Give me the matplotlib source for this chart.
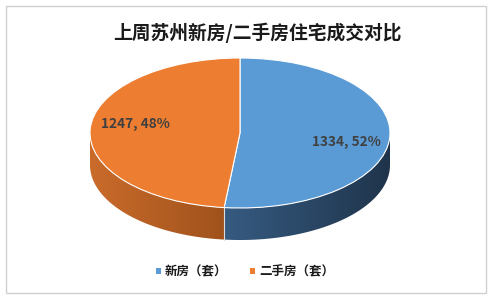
import numpy as np
import matplotlib
matplotlib.use("Agg")
import matplotlib.pyplot as plt
from matplotlib.patches import Rectangle, Patch, Polygon
from matplotlib.colors import to_rgb

plt.rcParams['font.family'] = ['Noto Sans CJK SC', 'DejaVu Sans']

# data
title = "上周苏州新房/二手房住宅成交对比"
categories = ["新房（套）", "二手房（套）"]
values = [1334, 1247]
top_colors = ["#5b9bd5", "#ed7d31"]
# side wall gradients, left colour -> right colour on screen
side_colors = [("#365b81", "#1f344b"), ("#c96b2b", "#a0521c")]

W, H = 492, 299
fig = plt.figure(figsize=(W / 100, H / 100), dpi=100)

# pie of radius 1 -> 150 px wide, 75 px tall
cx, cy, rx, ry = 240, 133, 150, 75
ax = fig.add_axes([0, 0, 1, 1])
xlim = ((0 - cx) / rx, (W - cx) / rx)
ylim = ((cy - H) / ry, (cy - 0) / ry)
depth = 32 / ry

total = sum(values)
fracs = [v / total for v in values]
start = 90.0
bounds = []
for f in fracs:
    bounds.append((start - f * 360, start))
    start -= f * 360

# side walls (front half only), gradient image clipped to the wall shape
for (a0, a1), (c_left, c_right) in zip(bounds, side_colors):
    for shift in (-360, 0, 360):
        lo, hi = max(a0 + shift, -180), min(a1 + shift, 0)
        if lo >= hi:
            continue
        t = np.radians(np.linspace(lo, hi, 120))
        xs, ys = np.cos(t), np.sin(t)
        pts = list(zip(xs, ys)) + list(zip(xs[::-1], ys[::-1] - depth))
        poly = Polygon(pts, closed=True, facecolor='none', edgecolor='none')
        ax.add_patch(poly)
        cl, cr = np.array(to_rgb(c_left)), np.array(to_rgb(c_right))
        u = np.linspace(0, 1, 256)
        grad = (cl[None, :] + (cr - cl)[None, :] * u[:, None])[None, :, :]
        im = ax.imshow(grad, extent=(xs.min(), xs.max(), ys.min() - depth, ys.max()),
                       aspect='auto', interpolation='bilinear', zorder=1)
        im.set_clip_path(poly)

split = np.radians(bounds[0][0])
ax.plot([np.cos(split)] * 2, [np.sin(split), np.sin(split) - depth], color="#dcdcdc", lw=0.8, zorder=2)

# top surface
wedges, _ = ax.pie(values, colors=top_colors, startangle=90, counterclock=False,
                   radius=1, center=(0, 0), frame=True,
                   wedgeprops=dict(edgecolor="white", linewidth=0.8, zorder=3))
ax.set_xlim(*xlim)
ax.set_ylim(*ylim)
ax.set_aspect('auto')
ax.axis('off')

# data labels
label_pos = [(0.71, -0.12), (-0.70, 0.12)]
for v, f, (lx, ly) in zip(values, fracs, label_pos):
    ax.text(lx, ly, "%d, %d%%" % (v, round(f * 100)), ha='center', va='center',
            fontsize=9.8, fontweight='bold', color="#404040", zorder=5,
            family=['Noto Sans CJK SC', 'DejaVu Sans'])

fig.text(257 / W, 1 - 33 / H, title, ha='center', va='center', fontsize=13.5,
         fontweight='bold', color="#1a1a1a")

handles = [Patch(facecolor=c, edgecolor='none') for c in top_colors]
leg = fig.legend(handles, categories, loc='center', bbox_to_anchor=(245 / W, 1 - 272 / H),
                 ncol=2, frameon=False, handlelength=0.4, handleheight=0.4,
                 handletextpad=0.35, columnspacing=1.8,
                 prop=dict(family=['Noto Sans CJK SC', 'DejaVu Sans'], size=9, weight='bold'))
for t in leg.get_texts():
    t.set_color("#1a1a1a")

fig.patches.append(Rectangle((6 / W, 1 - 293 / H), 480 / W, 287 / H, transform=fig.transFigure,
                             fill=False, edgecolor="#d0d0d0", lw=1))

fig.savefig("out.png", dpi=100, facecolor="white")
